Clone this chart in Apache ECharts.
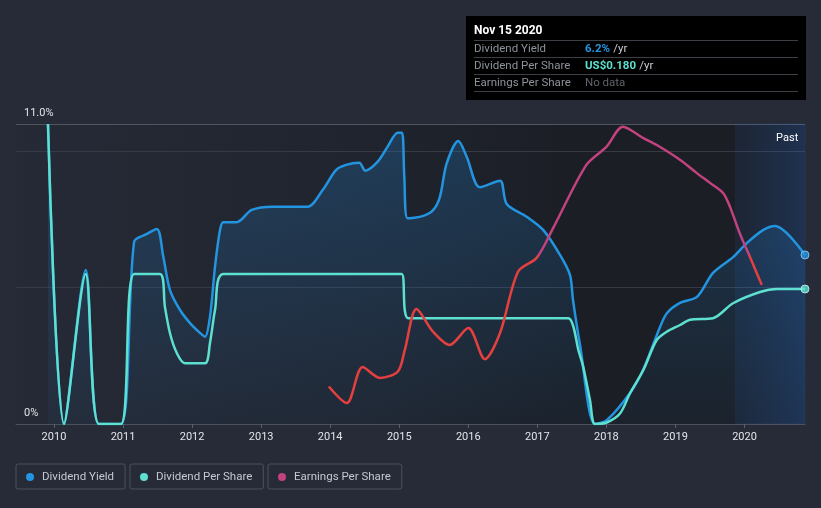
<!DOCTYPE html>
<html><head><meta charset="utf-8">
<script src="https://cdn.jsdelivr.net/npm/echarts@6/dist/echarts.min.js"></script>
<style>html,body{margin:0;padding:0;background:#262b37;}#c{width:821px;height:508px;}</style>
</head><body><div id="c"></div>
<script>
// ---- data ----
const yearTicks = [2010, 2011, 2012, 2013, 2014, 2015, 2016, 2017, 2018, 2019, 2020];
const dyYears = [2009.913, 2010.145, 2010.46, 2010.65, 2010.97, 2011.16, 2011.33, 2011.49, 2011.583, 2011.68, 2011.825, 2011.97, 2012.114, 2012.187, 2012.259, 2012.332, 2012.404, 2012.452, 2012.646, 2012.863, 2013.176, 2013.674, 2013.891, 2014.084, 2014.229, 2014.421, 2014.508, 2014.688, 2014.832, 2014.978, 2015.04, 2015.073, 2015.122, 2015.348, 2015.493, 2015.59, 2015.687, 2015.855, 2015.977, 2016.169, 2016.459, 2016.556, 2016.846, 2017.087, 2017.328, 2017.473, 2017.516, 2017.618, 2017.835, 2018.009, 2018.342, 2018.53, 2018.777, 2018.878, 2019.066, 2019.312, 2019.544, 2019.834, 2020.036, 2020.268, 2020.442, 2020.876];
const dyValues = [11.0, 0, 5.65, 0, 0, 6.68, 6.95, 7.15, 6.13, 4.91, 4.18, 3.7, 3.34, 3.2, 3.93, 5.77, 7.11, 7.4, 7.4, 7.85, 7.97, 7.97, 8.58, 9.31, 9.5, 9.58, 9.29, 9.62, 10.17, 10.68, 10.68, 9.07, 7.54, 7.63, 7.85, 8.34, 9.56, 10.38, 9.8, 8.68, 8.92, 8.07, 7.6, 7.11, 6.2, 5.46, 4.55, 2.9, 0, 0.15, 1.14, 1.98, 3.56, 4.07, 4.44, 4.66, 5.54, 6.12, 6.64, 7.11, 7.26, 6.2];
const dpsYears = [2009.913, 2010.145, 2010.46, 2010.65, 2010.97, 2011.16, 2011.535, 2011.607, 2011.68, 2011.777, 2011.897, 2012.187, 2012.259, 2012.332, 2012.452, 2015.035, 2015.08, 2015.13, 2017.448, 2017.521, 2017.593, 2017.665, 2017.762, 2017.835, 2018.004, 2018.197, 2018.342, 2018.535, 2018.728, 2018.873, 2019.066, 2019.211, 2019.544, 2019.834, 2020.225, 2020.471, 2020.876];
const dpsValues = [0.40, 0, 0.20, 0, 0, 0.20, 0.20, 0.156, 0.121, 0.095, 0.081, 0.081, 0.108, 0.152, 0.20, 0.20, 0.152, 0.141, 0.141, 0.130, 0.099, 0.076, 0.032, 0, 0.002, 0.014, 0.041, 0.072, 0.112, 0.123, 0.132, 0.139, 0.141, 0.161, 0.176, 0.18, 0.18];
const epsYears = [2013.98, 2014.24, 2014.47, 2014.72, 2014.98, 2015.08, 2015.25, 2015.49, 2015.73, 2016.0, 2016.24, 2016.46, 2016.72, 2016.99, 2017.23, 2017.71, 2018.0, 2018.24, 2018.53, 2018.73, 2019.07, 2019.31, 2019.5, 2019.69, 2019.79, 2019.93, 2020.08, 2020.25];
const epsValues = [-0.35, -0.394, -0.298, -0.327, -0.31, -0.253, -0.143, -0.204, -0.239, -0.194, -0.277, -0.207, -0.044, -0.007, 0.073, 0.241, 0.289, 0.343, 0.313, 0.294, 0.254, 0.219, 0.193, 0.166, 0.129, 0.059, -0.005, -0.079];
const xStart = 2009.45, xEnd = 2020.876, pastStart = 2019.873;
const dateLabel = 'Nov 15 2020';
const seriesNames = ['Dividend Yield', 'Dividend Per Share', 'Earnings Per Share'];
// --------------------------------------

const BLUE = '#2394df', TEAL = '#5de0cf', MAG = '#c2427f', RED = '#e5403f';
const zip = (a, b) => a.map((x, i) => [x, b[i]]);
const last = a => a[a.length - 1];

const chart = echarts.init(document.getElementById('c'));
const FONT = 'Roboto, "Noto Sans", sans-serif';
const GRID = { left: 16, right: 16, top: 124, bottom: 84 };

function legend(name, left) {
  return {
    data: [name], left: left, top: 464, orient: 'horizontal',
    icon: 'circle', itemWidth: 14, itemHeight: 8,
    borderColor: '#4b515d', borderWidth: 1, borderRadius: 2,
    padding: [7, 11, 6, 10],
    textStyle: { color: '#c4c8d0', fontSize: 11.5, fontFamily: FONT }
  };
}

const option = {
  backgroundColor: '#262b37',
  animation: false,
  grid: {
    left: GRID.left, right: GRID.right, top: GRID.top, bottom: GRID.bottom, show: true, borderWidth: 0,
    backgroundColor: new echarts.graphic.LinearGradient(0, 0, 1, 0, [
      { offset: 0, color: '#252a36' }, { offset: 0.45, color: '#20242e' },
      { offset: 0.7, color: '#1b1e25' }, { offset: 1, color: '#1b1e25' }])
  },
  legend: [legend(seriesNames[0], 16), legend(seriesNames[1], 130), legend(seriesNames[2], 268)],
  xAxis: {
    type: 'value', min: xStart, max: xEnd,
    axisLine: { show: true, lineStyle: { color: '#4b515d', width: 1 } },
    axisTick: { show: true, customValues: yearTicks, length: 4, lineStyle: { color: '#5a606b' } },
    axisLabel: { customValues: yearTicks, color: '#e2e4e8', fontSize: 11, fontFamily: FONT, margin: 8,
      formatter: v => String(Math.round(v)) },
    splitLine: { show: false }
  },
  yAxis: [
    {
      type: 'value', min: 0, max: 11, interval: 5,
      axisLine: { show: false }, axisTick: { show: false },
      axisLabel: { inside: true, margin: 8, verticalAlign: 'bottom', padding: [0, 0, 5, 0],
        color: '#e2e4e8', fontSize: 11, fontFamily: FONT,
        formatter: v => v === 0 ? '0%' : (v === 11 ? '11.0%' : '') },
      splitLine: { show: true, lineStyle: { color: ['#4b515d', '#353a45', '#353a45', '#50555f'], width: 1 } }
    },
    { type: 'value', min: 0, max: 0.4, show: false, splitLine: { show: false } },
    { type: 'value', min: -0.45, max: 0.35, show: false, splitLine: { show: false } }
  ],
  series: [
    {
      name: seriesNames[0], type: 'line', yAxisIndex: 0, data: zip(dyYears, dyValues),
      smooth: 0.3, showSymbol: false, symbol: 'none',
      lineStyle: { color: BLUE, width: 2.5 }, itemStyle: { color: BLUE },
      areaStyle: { color: new echarts.graphic.LinearGradient(0, 0, 0, 1, [
        { offset: 0, color: 'rgba(33,150,243,0.32)' }, { offset: 1, color: 'rgba(33,150,243,0.05)' }]) },
      markArea: {
        silent: true,
        itemStyle: { color: new echarts.graphic.LinearGradient(0, 0, 1, 0, [
          { offset: 0, color: 'rgba(40,90,170,0.12)' }, { offset: 1, color: 'rgba(40,100,190,0.28)' }]),
          borderColor: 'rgba(60,110,190,0.25)', borderWidth: 0.5 },
        label: { show: true, position: 'insideTopRight', formatter: 'Past', color: '#ffffff',
          fontSize: 11, fontFamily: FONT, offset: [-2, 4] },
        data: [[{ xAxis: pastStart }, { xAxis: xEnd }]]
      },
      z: 2
    },
    {
      name: seriesNames[1], type: 'line', yAxisIndex: 1, data: zip(dpsYears, dpsValues),
      smooth: 0.3, showSymbol: false, symbol: 'none',
      lineStyle: { color: TEAL, width: 2.5 }, itemStyle: { color: TEAL }, z: 3
    },
    {
      name: seriesNames[2], type: 'line', yAxisIndex: 2, data: zip(epsYears, epsValues),
      smooth: 0.3, showSymbol: false, symbol: 'none',
      lineStyle: { color: MAG, width: 2.5 }, itemStyle: { color: MAG }, z: 4
    },
    {
      type: 'scatter', yAxisIndex: 0, data: [[last(dyYears), last(dyValues)]], symbolSize: 8,
      itemStyle: { color: BLUE, borderColor: '#9fd0f5', borderWidth: 1 }, z: 5, silent: true
    },
    {
      type: 'scatter', yAxisIndex: 1, data: [[last(dpsYears), last(dpsValues)]], symbolSize: 8,
      itemStyle: { color: TEAL, borderColor: '#c9f5ef', borderWidth: 1 }, z: 5, silent: true
    }
  ],
  graphic: [
    { type: 'rect', shape: { x: 466, y: 16, width: 340, height: 84 }, style: { fill: '#000000' }, z: 10 },
    { type: 'text', x: 474, y: 31, style: { text: dateLabel, fill: '#ffffff', font: 'bold 12px ' + FONT, textVerticalAlign: 'middle' }, z: 11 },
    ...[40.5, 57.5, 74.5, 91.5].map(y => ({ type: 'line', shape: { x1: 474, y1: y, x2: 798, y2: y }, style: { stroke: '#3c3f45', lineWidth: 1 }, z: 11 })),
    { type: 'text', x: 474, y: 49, style: { text: seriesNames[0], fill: '#8d929b', font: '11.5px ' + FONT, textVerticalAlign: 'middle' }, z: 11 },
    { type: 'text', x: 474, y: 66, style: { text: seriesNames[1], fill: '#8d929b', font: '11.5px ' + FONT, textVerticalAlign: 'middle' }, z: 11 },
    { type: 'text', x: 474, y: 83, style: { text: seriesNames[2], fill: '#8d929b', font: '11.5px ' + FONT, textVerticalAlign: 'middle' }, z: 11 },
    { type: 'text', x: 585, y: 49, style: { text: '{v|' + last(dyValues).toFixed(1) + '%} {u|/yr}', textVerticalAlign: 'middle',
        rich: { v: { fill: BLUE, font: 'bold 11.5px ' + FONT }, u: { fill: '#c9ccd2', font: '11.5px ' + FONT } } }, z: 11 },
    { type: 'text', x: 585, y: 66, style: { text: '{v|US$' + last(dpsValues).toFixed(3) + '} {u|/yr}', textVerticalAlign: 'middle',
        rich: { v: { fill: TEAL, font: 'bold 11.5px ' + FONT }, u: { fill: '#c9ccd2', font: '11.5px ' + FONT } } }, z: 11 },
    { type: 'text', x: 585, y: 83, style: { text: 'No data', fill: '#5f636b', font: '11.5px ' + FONT, textVerticalAlign: 'middle' }, z: 11 }
  ]
};
chart.setOption(option);

// colour EPS red below zero, magenta above, using the axis' own pixel mapping
const plotTop = GRID.top, plotBottom = 508 - GRID.bottom;
const zeroY = chart.convertToPixel({ yAxisIndex: 2 }, 0);
const f = (zeroY - plotTop) / (plotBottom - plotTop);
chart.setOption({
  series: [{}, {}, {
    lineStyle: { color: new echarts.graphic.LinearGradient(0, plotTop, 0, plotBottom, [
      { offset: 0, color: MAG }, { offset: f, color: MAG }, { offset: f, color: RED }, { offset: 1, color: RED }], true) }
  }]
});
</script>
</body></html>
